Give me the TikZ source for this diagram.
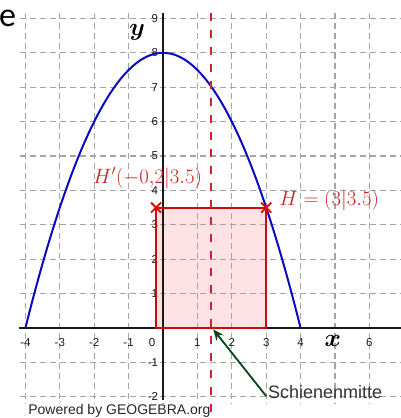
\documentclass[tikz,border=0pt]{standalone}
\usepackage{fontspec}
\newfontfamily\arialf{Liberation Sans}
\newfontfamily\calibrif{Carlito}
\usetikzlibrary{arrows.meta,calc}
\definecolor{gridgray}{RGB}{165,165,165}
\definecolor{parblue}{RGB}{10,10,190}
\definecolor{rectred}{RGB}{205,10,10}
\definecolor{rectfill}{RGB}{255,226,228}
\definecolor{dashred}{RGB}{205,35,50}
\definecolor{labred}{RGB}{200,35,35}
\definecolor{arrgreen}{RGB}{0,72,25}
\definecolor{axisblack}{RGB}{25,25,25}
\tikzset{
  gridline/.style={gridgray, line width=1.2pt, dash pattern=on 6pt off 4pt},
  axisline/.style={axisblack, line width=1.8pt},
  tick/.style={font=\arialf\fontsize{11.5}{12}\selectfont, text=axisblack, inner sep=0pt},
  redcross/.style={red!90!black, line width=1.8pt},
  mathlab/.style={font=\fontsize{21}{24}\selectfont, text=labred, inner sep=0pt},
  axlab/.style={font=\fontsize{27}{30}\selectfont\boldmath, inner sep=0pt},
}
\begin{document}
\begin{tikzpicture}[x=34.4pt,y=34.4pt]
\useasboundingbox (-163pt,-90pt) rectangle (238pt,328pt);
% rectangle fill
\fill[rectfill] (-0.2,0) rectangle (3,3.5);
% grid
\foreach \i in {-4,...,6} \draw[gridline] (\i,9.17) -- (\i,-2.2);
\foreach \j in {-2,...,9} \draw[gridline] (-4.17,\j) -- (7,\j);
% axes
\draw[axisline] (-4.2,0) -- (7,0);
\draw[axisline] (0,-2.1) -- (0,9.17);
% tick labels
\foreach \i/\t in {-4/-4,-3/-3,-2/-2,-1/-1,1/1,2/2,3/3,4/4,6/6}
  \node[tick] (tx\i) at (\i,-0.41) {\t};
\node[tick] (tx0) at (-0.32,-0.41) {0};
\foreach \j in {1,...,9}
  \node[tick, anchor=east] (ty\j) at (-0.14,\j) {\j};
\node[tick, anchor=east] (tym1) at (-0.14,-1) {-1};
\node[tick, anchor=east] (tym2) at (-0.14,-1.98) {-2};
% axis labels
\node[axlab] (xl) at (4.94,-0.38) {$x$};
\node[axlab] (yl) at (-0.75,8.6) {$y$};
% parabola
\draw[parblue, line width=2pt, domain=-4:4, samples=100] plot (\x,{8-0.5*\x*\x});
% rectangle
\draw[rectred, line width=2pt] (-0.2,0) rectangle (3,3.5);
% dashed centre line
\draw[dashred, line width=1.8pt, dash pattern=on 8pt off 9pt] (1.4,9.17) -- (1.4,-2.62);
% points
\coordinate (Hp) at (-0.2,3.5);
\coordinate (H) at (3,3.5);
\foreach \p in {Hp,H} {
  \draw[redcross] ($(\p)+(-5pt,-5pt)$) -- ($(\p)+(5pt,5pt)$);
  \draw[redcross] ($(\p)+(-5pt,5pt)$) -- ($(\p)+(5pt,-5pt)$);
}
\node[mathlab] (Hplab) at (-0.45,4.36) {$H'(-0{,}2|3.5)$};
\node[mathlab] (Hlab) at (4.83,3.71) {$H=(3|3.5)$};
% arrow
\node[font=\arialf\fontsize{18}{20}\selectfont, text=black!80, anchor=west, inner sep=0pt] (sm) at (3.05,-1.875) {Schienenmitte};
\coordinate (smtail) at (3.0,-1.98);
\coordinate (smtip) at (1.46,-0.04);
\draw[arrgreen, line width=1.8pt, -{Stealth[length=11pt,width=9pt]}] (smtail) -- (smtip);
% footer
\node[font=\arialf\fontsize{14}{16}\selectfont, text=black!85, anchor=south west, inner sep=0pt] (pw) at (-3.92,-2.595) {Powered by GEOGEBRA.org};
\node[font=\calibrif\fontsize{34}{36}\selectfont, inner sep=0pt] (e) at (-4.52,9.0) {e};
\end{tikzpicture}
\end{document}
